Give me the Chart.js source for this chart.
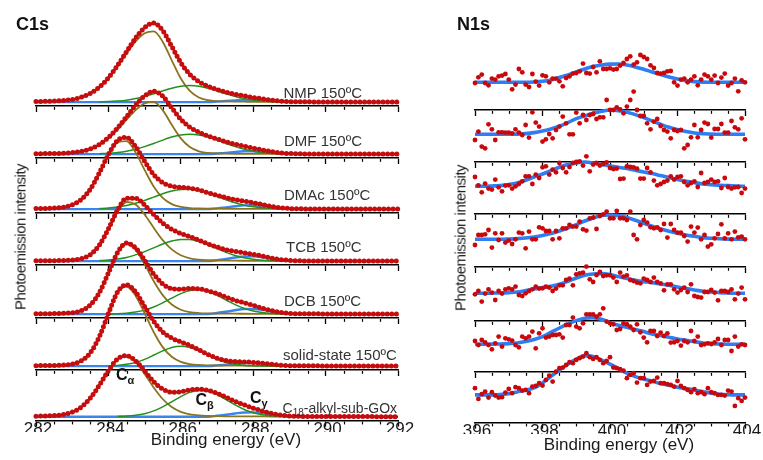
<!DOCTYPE html>
<html lang="en">
<head>
<meta charset="UTF-8">
<title>C1s / N1s photoemission spectra</title>
<script src="https://cdn.jsdelivr.net/npm/chart.js"></script>
<style>
  body { margin: 0; background: #fff; }
  #stage { position: relative; width: 763px; height: 460px; overflow: hidden; background: #fff;
           font-family: "Liberation Sans", Arial, sans-serif; }
  #stage canvas { position: absolute; }
  .txt { position: absolute; line-height: 1; white-space: nowrap; z-index: 5; }
  .panel { font-size: 18px; font-weight: bold; color: #111; }
  .lbl { font-size: 15px; color: #333; }
  .sub { font-size: 10px; position: relative; top: 3px; }
  .greek { font-size: 16px; font-weight: bold; color: #111; }
  .greek span { font-size: 11px; position: relative; top: 4px; }
  .xtitle { font-size: 17px; color: #1a1a1a; width: 200px; text-align: center; }
  .ytitle { font-size: 15px; color: #1a1a1a; letter-spacing: -0.5px; transform: translate(-50%, -50%) rotate(-90deg); }
</style>
</head>
<body>
<div id="stage">
  <div class="txt panel" style="left:16px;top:14.6px">C1s</div>
  <div class="txt panel" style="left:457px;top:14.6px">N1s</div>

  <div class="txt lbl" style="left:283.5px;top:84.6px">NMP 150ºC</div>
  <div class="txt lbl" style="left:284px;top:132.6px">DMF 150ºC</div>
  <div class="txt lbl" style="left:284px;top:187.3px">DMAc 150ºC</div>
  <div class="txt lbl" style="left:286px;top:238.6px">TCB 150ºC</div>
  <div class="txt lbl" style="left:284px;top:292.6px">DCB 150ºC</div>
  <div class="txt lbl" style="left:283px;top:347px">solid-state 150ºC</div>
  <div class="txt lbl" style="left:282.5px;top:401px;font-size:14px">C<span class="sub">18</span>-alkyl-sub-GOx</div>

  <div class="txt greek" style="left:116px;top:366.7px">C<span>α</span></div>
  <div class="txt greek" style="left:195.5px;top:392px">C<span>β</span></div>
  <div class="txt greek" style="left:250px;top:390px">C<span>γ</span></div>

  <div class="txt xtitle" style="left:126px;top:430.8px">Binding energy (eV)</div>
  <div class="txt xtitle" style="left:519px;top:435.8px">Binding energy (eV)</div>
  <div class="txt ytitle" style="left:20px;top:236.5px">Photoemission intensity</div>
  <div class="txt ytitle" style="left:459.5px;top:238px">Photoemission intensity</div>
</div>

<script>
// ---------- C1s : binding energy grid (eV) and intensities (arb. units, baseline = 0) ----------
const c1sEnergy = [282, 282.25, 282.5, 282.75, 283, 283.25, 283.5, 283.75, 284, 284.25, 284.5, 284.75,
  285, 285.25, 285.5, 285.75, 286, 286.25, 286.5, 286.75, 287, 287.25, 287.5, 287.75, 288, 288.25,
  288.5, 288.75, 289, 289.25, 289.5, 289.75, 290, 290.25, 290.5, 290.75, 291, 291.25, 291.5, 291.75, 292];
const c1sTicks = [282, 284, 286, 288, 290, 292];

const N = null;
// NMP 150ºC
const nmpData = [0.6,0.8,1.0,1.6,2.7,5.0,8.9,15.5,25.0,37.6,51.8,65.8,76.5,81.2,73.6,57.2,40.6,28.5,21.1,16.3,
  13.0,10.3,8.1,6.4,4.8,3.4,2.0,1.0,0.5,0.3,0.3,0.2,0.2,0.2,0.1,0.1,0.1,0.1,0,0,0];
const nmpCa = [0.6,0.8,1.0,1.6,2.7,5.0,8.9,15.3,24.5,36.5,49.8,62.2,70.7,72.7,62.1,42.9,24.3,11.5,4.8,2.0,
  1.0,0.7,0.5,0.4,0.3,0.3,0.2,0.2,0.2,N,N,N,N,N,N,N,N,N,N,N,N];
const nmpCb = [N,N,N,N,N,N,N,0.2,0.5,1.1,2.0,3.6,5.8,8.5,11.5,14.3,16.3,17,16.3,14.3,
  11.5,8.5,5.8,3.6,2.0,1.1,0.5,0.2,0.1,0,0,0,0,N,N,N,N,N,N,N,N];
const nmpBg = [0,0,0,0,0,0,0,0,0,0,0,0,0,0,0,0,0,0,0,0,
  0.5,1.1,1.8,2.4,2.5,2.0,1.25,0.6,0.2,0.1,0,0,0,0,0,0,0,0,0,0,0];
// DMF 150ºC
const dmfData = [0.4,0.5,0.6,0.9,1.5,2.8,5.3,10.0,17.0,26.7,38.3,50.2,59.8,64.6,59.6,47.6,35.8,27.7,22.5,18.7,
  15.6,12.6,10.2,8.2,6.1,4.3,2.6,1.2,0.6,0.3,0.2,0.2,0.2,0.2,0.1,0.1,0.1,0.1,0,0,0];
const dmfCa = [0.4,0.5,0.6,0.9,1.5,2.8,5.3,9.6,16.1,25.0,35.3,45.2,52.1,53.7,45.2,30.1,16.1,7.2,2.8,1.2,
  0.6,0.4,0.3,0.3,0.2,0.2,0.2,0.1,0.1,N,N,N,N,N,N,N,N,N,N,N,N];
const dmfCb = [N,N,N,N,N,N,N,0.4,0.85,1.7,3.0,5.0,7.7,10.9,14.4,17.5,19.7,20.5,19.7,17.5,
  14.4,10.9,7.7,5.0,3.0,1.7,0.85,0.4,0.2,0.1,0,0,0,N,N,N,N,N,N,N,N];
const dmfBg = [0,0,0,0,0,0,0,0,0,0,0,0,0,0,0,0,0,0,0,0,
  0.6,1.3,2.2,2.9,2.9,2.4,1.5,0.7,0.3,0.1,0,0,0,0,0,0,0,0,0,0,0];
// DMAc 150ºC
const dmacData = [0.5,0.6,1.0,1.9,4.3,9.8,20.5,37.2,56.1,70.5,73.6,64.3,49.2,35.6,27.2,23.6,22.4,21.5,19.7,16.8,
  14.2,11.8,9.7,8.2,6.5,4.7,2.8,1.5,0.6,0.3,0.2,0.2,0.2,0.2,0.1,0.1,0.1,0.1,0,0,0];
const dmacCa = [0.5,0.6,1.0,1.9,4.3,9.8,20.5,36.6,55.0,68.4,69.9,58.3,40.3,23.3,11.5,5.1,2.2,1.1,0.7,0.5,
  0.4,0.35,0.3,0.25,0.2,0.2,0.2,0.15,0.1,N,N,N,N,N,N,N,N,N,N,N,N];
const dmacCb = [N,N,N,N,N,N,N,0.55,1.1,2.1,3.7,6.0,8.9,12.3,15.7,18.5,20.2,20.4,19.0,16.3,
  13.0,9.6,6.5,4.1,2.4,1.3,0.64,0.3,0.1,0,0,0,0,N,N,N,N,N,N,N,N];
const dmacBg = [0,0,0,0,0,0,0,0,0,0,0,0,0,0,0,0,0,0,0,0,
  0.8,1.8,2.9,3.8,3.9,3.2,2.0,1.0,0.4,0.1,0,0,0,0,0,0,0,0,0,0,0];
// TCB 150ºC
const tcbData = [0.3,0.35,0.45,0.6,1.1,2.5,6.6,16.6,33.1,52.2,64.5,64.5,57.6,47.9,39.0,32.7,28.3,25.1,21.6,17.7,
  14.5,11.7,9.9,8.6,7.0,5.2,3.1,1.6,0.75,0.35,0.2,0.2,0.2,0.2,0.1,0.1,0.1,0.1,0,0,0];
const tcbCa = [0.3,0.35,0.45,0.6,1.1,2.5,6.6,16.1,32.0,50.1,60.7,58.1,47.9,34.3,21.5,12.0,6.0,2.9,1.5,0.9,
  0.6,0.5,0.4,0.35,0.3,0.25,0.2,0.2,0.15,N,N,N,N,N,N,N,N,N,N,N,N];
const tcbCb = [N,N,N,N,N,N,N,0.5,1.1,2.1,3.8,6.4,9.7,13.6,17.5,20.7,22.3,22.2,20.1,16.8,
  12.8,9.0,5.8,3.4,1.8,0.9,0.4,0.2,0.1,0,0,0,0,N,N,N,N,N,N,N,N];
const tcbBg = [0,0,0,0,0,0,0,0,0,0,0,0,0,0,0,0,0,0,0,0,
  1.05,2.2,3.7,4.8,4.9,4.0,2.5,1.2,0.5,0.15,0,0,0,0,0,0,0,0,0,0,0];
// DCB 150ºC
const dcbData = [0.35,0.45,0.55,0.8,1.4,3.5,9.5,22.1,42.3,63.1,73.0,68.1,55.4,41.3,31.1,26.2,25.5,26.3,26.0,23.8,
  21.1,17.4,14.1,11.6,8.9,6.2,3.7,1.9,0.75,0.4,0.3,0.3,0.2,0.2,0.2,0.1,0.1,0.1,0,0,0];
const dcbCa = [0.35,0.45,0.55,0.8,1.4,3.5,9.5,22.1,42.1,62.7,72,66.0,51.3,34.0,19.5,9.8,4.5,2.1,1.1,0.7,
  0.55,0.45,0.4,0.35,0.3,0.25,0.2,0.2,0.15,N,N,N,N,N,N,N,N,N,N,N,N];
const dcbCb = [N,N,N,N,N,N,N,N,0.15,0.4,1.0,2.1,4.1,7.3,11.6,16.4,21.0,24.2,24.9,23.1,
  19.3,14.5,9.7,5.9,3.2,1.6,0.7,0.3,0.1,0,0,0,0,N,N,N,N,N,N,N,N];
const dcbBg = [0,0,0,0,0,0,0,0,0,0,0,0,0,0,0,0,0,0,0,0,
  1.2,2.4,4.0,5.3,5.4,4.3,2.75,1.4,0.5,0.2,0,0,0,0,0,0,0,0,0,0,0];
// solid-state 150ºC
const solidData = [0.45,0.55,0.7,1.0,2.1,5.4,13.7,30.2,54.0,76.0,83.5,76.2,61.3,46.1,35.1,28.8,24.9,21.3,16.8,11.9,
  8.2,5.75,4.65,4.3,3.85,3.0,1.9,1.0,0.5,0.3,0.25,0.25,0.2,0.2,0.2,0.1,0.1,0.1,0,0,0];
const solidCa = [0.45,0.55,0.7,1.0,2.1,5.4,13.7,30.2,53.7,75.3,81.7,72.4,54.4,35.0,19.5,9.6,4.4,2.1,1.2,0.8,
  0.6,0.5,0.45,0.4,0.35,0.3,0.25,0.2,0.2,N,N,N,N,N,N,N,N,N,N,N,N];
const solidCb = [N,N,N,N,N,N,N,N,0.3,0.74,1.8,3.8,6.9,11.1,15.6,19.2,20.5,19.2,15.6,11.1,
  6.9,3.8,1.8,0.74,0.3,0.1,0,0,0,0,0,0,0,N,N,N,N,N,N,N,N];
const solidBg = [0,0,0,0,0,0,0,0,0,0,0,0,0,0,0,0,0,0,0,0,
  0.7,1.45,2.4,3.2,3.2,2.6,1.65,0.8,0.3,0.1,0,0,0,0,0,0,0,0,0,0,0];
// C18-alkyl-sub-GOx
const c18Data = [0.5,0.7,1.1,2.1,4.6,9.8,19.0,32.2,47.1,58.9,62.4,57.2,46.8,35.8,28.2,25.0,25.5,27.3,28.2,26.9,
  24.0,19.9,15.7,12.1,8.8,5.85,3.35,1.65,0.7,0.35,0.25,0.25,0.2,0.2,0.2,0.1,0.1,0.1,0,0,0];
const c18Ca = [0.5,0.7,1.1,2.1,4.6,9.8,19.0,32.2,47.1,58.7,61.8,55.7,43.7,29.9,18.1,9.8,4.9,2.4,1.25,0.8,
  0.55,0.45,0.4,0.35,0.3,0.25,0.2,0.2,0.15,N,N,N,N,N,N,N,N,N,N,N,N];
const c18Cb = [N,N,N,N,N,N,N,N,N,0.24,0.63,1.5,3.1,5.9,10.1,15.2,20.6,24.9,26.9,26.1,
  22.5,17.4,12.0,7.4,4.1,2.0,0.9,0.35,0.1,0,0,0,0,N,N,N,N,N,N,N,N];
const c18Bg = [0,0,0,0,0,0,0,0,0,0,0,0,0,0,0,0,0,0,0,0,
  0.95,2.0,3.3,4.3,4.4,3.6,2.25,1.1,0.45,0.15,0,0,0,0,0,0,0,0,0,0,0];

// ---------- N1s : measured points (0.1 eV) and fitted envelope (0.25 eV) ----------
const n1sEnergy = [396,396.1,396.2,396.3,396.4,396.5,396.6,396.7,396.8,396.9,397,397.1,397.2,397.3,397.4,
  397.5,397.6,397.7,397.8,397.9,398,398.1,398.2,398.3,398.4,398.5,398.6,398.7,398.8,398.9,399,399.1,399.2,
  399.3,399.4,399.5,399.6,399.7,399.8,399.9,400,400.1,400.2,400.3,400.4,400.5,400.6,400.7,400.8,400.9,401,
  401.1,401.2,401.3,401.4,401.5,401.6,401.7,401.8,401.9,402,402.1,402.2,402.3,402.4,402.5,402.6,402.7,402.8,
  402.9,403,403.1,403.2,403.3,403.4,403.5,403.6,403.7,403.8,403.9,404];
const n1sFitEnergy = [396,396.25,396.5,396.75,397,397.25,397.5,397.75,398,398.25,398.5,398.75,399,399.25,
  399.5,399.75,400,400.25,400.5,400.75,401,401.25,401.5,401.75,402,402.25,402.5,402.75,403,403.25,403.5,403.75,404];
const n1sTicks = [396, 398, 400, 402, 404];

const n1sPts1 = [-0.7,5,7.7,-0.7,-3,3.7,2.7,6,6.7,8.3,2.7,-7,-2.3,13.3,10,-2.3,-4.7,8.3,0.7,-3.3,7,6,0,3.7,3.7,1,-4,4.3,6,8.7,
  9.3,11,18.7,9.3,8.7,15.3,10,21,13.3,13.3,14,12.7,13.3,16.7,19.3,23.3,26,17.7,20,27.3,25.3,23.3,17,14.3,9.3,8.7,9.3,11,11.3,0,
  -3.3,2.7,3.7,0,2.7,6,-3,2.7,7.7,6,2.7,6.7,-0.7,4.7,8.7,-3.3,-0.7,3.7,-9,2,0];
const n1sFit1 = [0,0,0,0,0,0,0,0.3,1,2.3,4.7,7.3,10.3,13.3,15.7,17.3,18.2,18.3,17.3,15.3,13,10.3,7.7,5.3,3.3,1.7,0.7,0.2,0,0,0,0,0];
const n1sPts2 = [-5.7,2.7,-12.3,-14,10,5,-5.7,2,2,1.7,1.7,1,5,1.7,-0.7,9.3,-3.3,22,11.7,7.7,-7.3,-5,0.3,-4,4.3,7.7,17.7,11,0,0,
  21.7,11,19.3,14.3,19.3,20.3,15.3,17,17,34.3,24.3,24.3,27,25,21,27.7,34.3,42.7,24.3,18.3,18.3,11,5,12.7,15.3,8.3,4.3,2.7,-4,4.3,
  3.3,4.3,-14,-10.7,-3,9.3,-3,4.3,11.7,10.3,-3.3,5.3,5.3,10.3,1.7,1.7,13.3,7,5,16,-5];
const n1sFit2 = [0,0,0,0,0,0.2,0.7,1.7,3.3,5.3,8,11.7,15.7,18.3,21,23,24.3,23.7,22,19.7,16.7,13.3,10,7,4.7,2.7,1.3,0.7,0.2,0,0,0,0];
const n1sPts3 = [9.3,1,-6,2.7,-2.3,-3.3,6.7,-1,-5,0.7,1,-2.3,0,2.3,5,10,10,2.3,11.7,8.3,19,20,11.7,16.7,14,23.3,18.3,14,19.3,23.3,
  24.3,25,20.7,30,15,21.7,23.3,20.7,22.3,24,18.3,17.3,17.7,7.3,7.7,20,19.3,19,17.7,7.7,7.7,18.3,14,5.7,1,2.3,4.3,5.7,10,6.7,
  9.3,10,4.3,1,3.3,5,-0.7,13.3,3.3,4.3,6.7,4.3,5,-1.7,8.3,-0.7,-2.3,-1,-0.7,-6.7,-2.3];
const n1sFit3 = [0,0,0.3,0.7,1.7,3.3,6,9.3,12.3,15.7,19,21.7,23.3,24.3,23.3,21.7,20.3,19,17.7,16,14.3,12.7,10.7,8.7,6.7,5,3.7,2.3,1.7,1,0.7,0.3,0];
const n1sPts4 = [-5.7,4.3,4.3,5,9.3,-8.3,6,-0.7,6,-3.3,-1.3,-4.7,0,6.7,6,-9,7.7,0,0,12,11,8.3,8.3,0,8.3,1,11,11,14.3,12.7,
  12.7,17.7,10,8.7,21,21.7,10.3,23.3,25,27.7,21,21,28.3,21,21,19.3,27.7,4.3,0,14.3,19.3,16.7,12,11,12,9.3,15.3,1.7,15.3,9.3,
  6.7,6.7,3.3,-2.3,12.7,6.7,11.7,0,4.3,-7.3,-5,1,5.3,15,1,6,0,7.7,2,2.7,0];
const n1sFit4 = [0,0,0,0,0.3,0.7,1.3,2.3,3.7,5.7,8.3,11.3,14.7,18.3,21.3,23.7,24.3,23.7,21.7,19,16,13,10.3,8,6,4.3,3,1.7,1,0.5,0.2,0,0];
const n1sPts5 = [-1,2.3,-8.3,-0.3,4,0.7,-6.7,2.3,-0.3,4,5,4,6.7,-1.7,-2.7,0,2.3,4,6.7,4.7,5,6.7,5.7,2.3,4.7,8,8,13.3,14.7,8,
  19,20,20.7,26.7,14,11.3,18.3,21.3,17.3,18,18,15.7,11.3,20.7,16.7,18,13.3,12.3,10.7,10,14.7,13.3,11.3,15.7,11.3,10,3,9,9,4,
  0.7,3.3,5.7,1.3,9,-2.7,-3.7,-4.3,1.3,1.3,3.3,0.7,-7,2.3,2.3,1.3,4,-6,-0.3,5.7,-6];
const n1sFit5 = [0,0,0.2,0.3,0.7,1.3,2.7,4.3,5.7,7,9,12,15.3,18,19.3,19.7,18.7,16.7,14.7,13,11.7,10.7,9.3,8,6.3,4.7,3.3,2,1.3,0.7,0.3,0,0];
const n1sPts6 = [3.3,-0.7,4.3,2,-0.7,-5,1,7.7,-2.3,6,5,3.7,-0.7,-3,7.7,6,7.7,12.7,-4,11,16,6.7,7.7,9.3,9.3,10,6.7,19.3,19.3,26.7,
  17.7,16,21,30,30,30,27.7,30,36,22.7,21,20,14.3,15.3,21,20,17.7,14.3,20,12,6.7,2,13.3,13.3,8.3,11.7,8.3,11,1.7,2,
  3.3,-1.3,3.3,2,13.3,3.3,7.7,-0.7,0,1,0.3,2,5.3,-0.7,4.3,4.3,-6.7,7.7,-2.3,0,-0.7];
const n1sFit6 = [0,0,0.2,0.3,0.7,1.3,2.7,4.7,7.7,12,16.3,20.3,23.7,26,26.7,25,21.7,19,17,14.7,12.7,10.3,8.7,7,5.3,4,2.7,1.3,0.7,0.3,0,0,0];
const n1sPts7 = [6.7,-4,0.7,3.3,-2.7,2.7,-0.7,-2.7,-2.3,2.3,6,1.7,7.7,6.7,4.3,5,1.7,8.3,9,11.7,9.3,15,19.3,13.3,23.3,26.7,27.3,30,32.7,31.7,
  35,36.7,38.3,41.7,37.7,36,37.7,35,31.7,34,37.7,27.3,26.7,25.7,24.3,16.7,20,21.7,12.3,16.7,16.7,10,13.3,14,17.3,11.7,11.7,10.7,10,8.3,
  14,9,6.7,5,2.7,5.7,1.7,2.7,0.7,6.7,2.7,1.7,0,0,-0.7,4.3,3.3,-11,-3.3,-6,-2.7];
const n1sFit7 = [0,0,0,0.3,1.3,3,4.7,7,12,18.7,24.7,30.7,35.7,39.3,38.3,34.7,30.7,26.3,21.7,18.3,16,13.7,11.3,9.7,7.7,6.3,5,3.3,1.7,0.7,0.2,0,0];

// ---------- layout of the stacked strips (axis line y on the page) ----------
const c1sStrips = [
  { data: nmpData, ca: nmpCa, cb: nmpCb, bg: nmpBg, axisY: 105.5 },
  { data: dmfData, ca: dmfCa, cb: dmfCb, bg: dmfBg, axisY: 158 },
  { data: dmacData, ca: dmacCa, cb: dmacCb, bg: dmacBg, axisY: 212.5 },
  { data: tcbData, ca: tcbCa, cb: tcbCb, bg: tcbBg, axisY: 265 },
  { data: dcbData, ca: dcbCa, cb: dcbCb, bg: dcbBg, axisY: 318 },
  { data: solidData, ca: solidCa, cb: solidCb, bg: solidBg, axisY: 370 },
  { data: c18Data, ca: c18Ca, cb: c18Cb, bg: c18Bg, axisY: 420.5 }
];
const n1sStrips = [
  { pts: n1sPts1, fit: n1sFit1, axisY: 110 },
  { pts: n1sPts2, fit: n1sFit2, axisY: 162.3 },
  { pts: n1sPts3, fit: n1sFit3, axisY: 214.3 },
  { pts: n1sPts4, fit: n1sFit4, axisY: 267.3 },
  { pts: n1sPts5, fit: n1sFit5, axisY: 320.7 },
  { pts: n1sPts6, fit: n1sFit6, axisY: 372.3 },
  { pts: n1sPts7, fit: n1sFit7, axisY: 423 }
];

const FONT = '"Liberation Sans", Arial, sans-serif';
const RED = '#c50d0d', FITBLUE = '#1414e6', BASEBLUE = '#3a84f2', OLIVE = '#8a7420', GREEN = '#23901e', N1SBLUE = '#2f7df2';

// half-eV minor ticks below the axis line
const minorTicks = {
  id: 'minorTicks',
  afterDraw(chart) {
    const s = chart.scales.x, ctx = chart.ctx;
    ctx.save();
    ctx.strokeStyle = '#000';
    ctx.lineWidth = 1.2;
    for (let v = s.min + 0.5; v < s.max; v += 0.5) {
      if (Math.abs(v % 2) < 1e-6) continue;
      const x = Math.round(s.getPixelForValue(v)) + 0.5;
      ctx.beginPath();
      ctx.moveTo(x, s.top + 1);
      ctx.lineTo(x, s.top + 3.8);
      ctx.stroke();
    }
    ctx.restore();
  }
};

const stage = document.getElementById('stage');
const xy = (xs, ys) => xs.map((x, i) => ({ x: x, y: ys[i] }));

function strip(o) {
  const canvas = document.createElement('canvas');
  canvas.width = o.w;
  canvas.height = o.h;
  stage.appendChild(canvas);
  const chart = new Chart(canvas, {
    type: 'line',
    data: { datasets: o.datasets },
    options: {
      responsive: false,
      animation: false,
      devicePixelRatio: 1,
      events: [],
      layout: { padding: { left: o.padL, right: o.padR, top: 0, bottom: 0 } },
      plugins: { legend: { display: false }, tooltip: { enabled: false } },
      scales: {
        x: {
          type: 'linear', min: o.xMin, max: o.xMax,
          afterBuildTicks: s => { s.ticks = o.ticks.map(v => ({ value: v })); },
          border: { display: true, color: '#000', width: 1.6 },
          grid: { display: true, drawOnChartArea: false, drawTicks: true, tickLength: 6, tickColor: '#000', tickWidth: 1.3 },
          ticks: { display: o.labels, autoSkip: false, maxRotation: 0, padding: -7.5, labelOffset: 2,
                   color: '#1a1a1a', font: { family: FONT, size: 17 } }
        },
        y: { display: false, min: o.yMin, max: o.yMin + 100 }
      }
    },
    plugins: [minorTicks]
  });
  // one intensity unit per pixel, then put the axis line where it belongs
  const ca = chart.chartArea;
  chart.options.scales.y.max = o.yMin + (ca.bottom - ca.top);
  chart.update('none');
  canvas.style.left = (o.areaLeft - ca.left) + 'px';
  canvas.style.top = (o.axisY - ca.bottom) + 'px';
}

c1sStrips.forEach((s, i) => {
  const last = i === c1sStrips.length - 1;
  strip({
    w: 420, h: last ? 124 : 100, padL: 36, padR: 22, areaLeft: 36,
    xMin: 282, xMax: 292, ticks: c1sTicks, labels: last, yMin: -4, axisY: s.axisY,
    datasets: [
      { data: xy(c1sEnergy, s.data), borderColor: RED, borderWidth: 5, borderDash: [0, 4.6], borderCapStyle: 'round',
        pointRadius: 0, cubicInterpolationMode: 'monotone', clip: 6, order: 0 },
      { data: xy(c1sEnergy, s.data), borderColor: FITBLUE, borderWidth: 1.4, pointRadius: 0,
        cubicInterpolationMode: 'monotone', order: 1 },
      { data: xy(c1sEnergy, s.cb), borderColor: GREEN, borderWidth: 1.5, pointRadius: 0,
        cubicInterpolationMode: 'monotone', order: 2 },
      { data: xy(c1sEnergy, s.ca), borderColor: OLIVE, borderWidth: 1.8, pointRadius: 0,
        cubicInterpolationMode: 'monotone', order: 3 },
      { data: xy(c1sEnergy, s.bg), borderColor: BASEBLUE, borderWidth: 2.4, pointRadius: 0,
        cubicInterpolationMode: 'monotone', order: 4 }
    ]
  });
});

n1sStrips.forEach((s, i) => {
  const last = i === n1sStrips.length - 1;
  strip({
    w: 343, h: last ? 114 : 90, padL: 55, padR: 18, areaLeft: 475,
    xMin: 396, xMax: 404, ticks: n1sTicks, labels: last, yMin: -27.7, axisY: s.axisY,
    datasets: [
      { data: xy(n1sEnergy, s.pts), showLine: false, pointRadius: 2.4, pointBackgroundColor: '#c8080b',
        pointBorderWidth: 0, clip: 6, order: 0 },
      { data: xy(n1sFitEnergy, s.fit), borderColor: N1SBLUE, borderWidth: 3.6, pointRadius: 0,
        cubicInterpolationMode: 'monotone', order: 1 }
    ]
  });
});
</script>
</body>
</html>
